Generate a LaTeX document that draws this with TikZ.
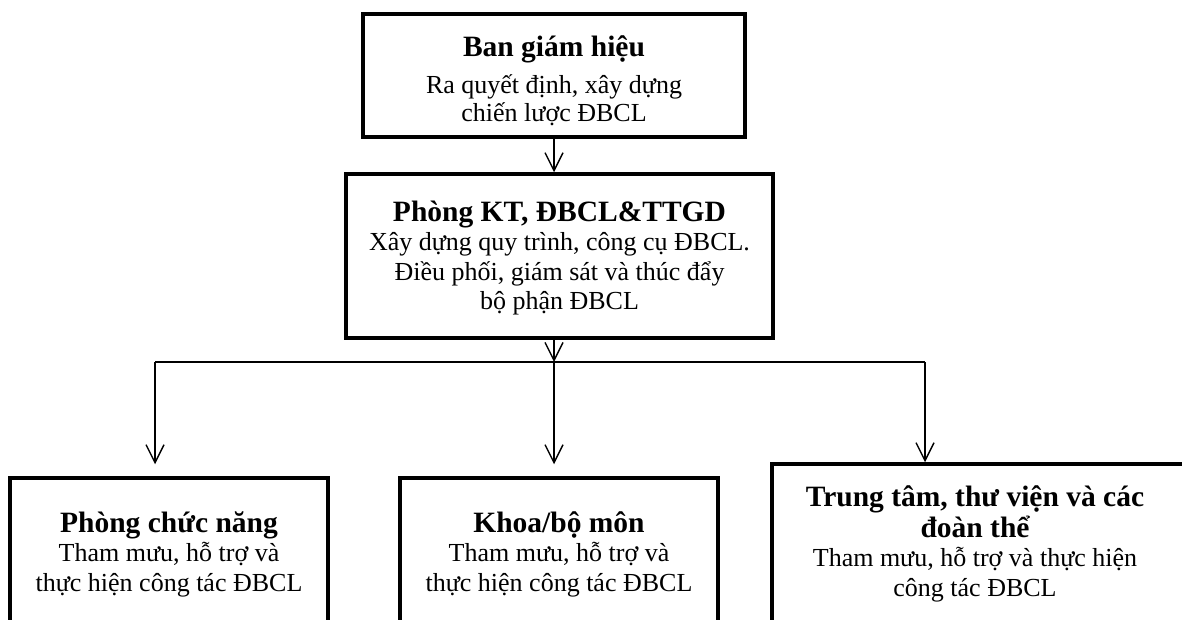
\documentclass[tikz,border=0pt]{standalone}
\usepackage{fontspec}
\setmainfont{Liberation Serif}
\usetikzlibrary{arrows.meta}
\newcommand\boxtitle[1]{{\fontsize{29.5}{32}\selectfont\bfseries #1}}
\begin{document}
\begin{tikzpicture}[x=1pt,y=-1pt,
  box/.style={draw, line width=3.5pt, inner sep=0pt},
  txt/.style={align=center, inner sep=0pt, font=\fontsize{26}{29.5}\selectfont},
  arr/.style={line width=1.4pt, -{Straight Barb[length=18pt,width=18pt,line width=1.4pt]}},
  conn/.style={line width=1.4pt}]
\useasboundingbox (0,0) rectangle (1182,620);
\clip (0,0) rectangle (1182,620);
\fill[white] (0,0) rectangle (1182,620);

\node[box, minimum width=382pt, minimum height=123pt] (b1) at (554,75.5) {};
\node[txt, font=\fontsize{26}{28}\selectfont] (t1) at ([yshift=-5pt]b1.center)
  {\boxtitle{Ban giám hiệu}\\[9pt]Ra quyết định, xây dựng\\chiến lược ĐBCL};

\node[box, minimum width=427pt, minimum height=164pt] (b2) at (559.5,256) {};
\node[txt] (t2) at ([yshift=-2pt]b2.center)
  {\boxtitle{Phòng KT, ĐBCL\&TTGD}\\Xây dựng quy trình, công cụ ĐBCL.\\Điều phối, giám sát và thúc đẩy\\bộ phận ĐBCL};

\node[box, minimum width=318pt, minimum height=152pt] (b3) at (169,554) {};
\node[txt] (t3) at (b3.center)
  {\boxtitle{Phòng chức năng}\\Tham mưu, hỗ trợ và\\thực hiện công tác ĐBCL};

\node[box, minimum width=318pt, minimum height=152pt] (b4) at (559,554) {};
\node[txt] (t4) at (b4.center)
  {\boxtitle{Khoa/bộ môn}\\Tham mưu, hỗ trợ và\\thực hiện công tác ĐBCL};

\node[box, minimum width=423pt, minimum height=166pt] (b5) at (983.5,547) {};
\node[txt] (t5) at ([xshift=-8.5pt,yshift=3pt]b5.center)
  {\boxtitle{Trung tâm, thư viện và các}\\[1pt]\boxtitle{đoàn thể}\\Tham mưu, hỗ trợ và thực hiện\\công tác ĐBCL};

\coordinate (j)  at (554,362);
\coordinate (jl) at (155,362);
\coordinate (jr) at (925,362);

\draw[arr] (b1.south) -- (b1.south |- b2.north);
\draw[arr] (j |- b2.south) -- (j);
\draw[conn] (jl) -- (jr);
\draw[arr, shorten >=12pt] (jl) -- (jl |- b3.north);
\draw[arr, shorten >=12pt] (j) -- (j |- b4.north);
\draw[arr] (jr) -- (jr |- b5.north);
\end{tikzpicture}
\end{document}
